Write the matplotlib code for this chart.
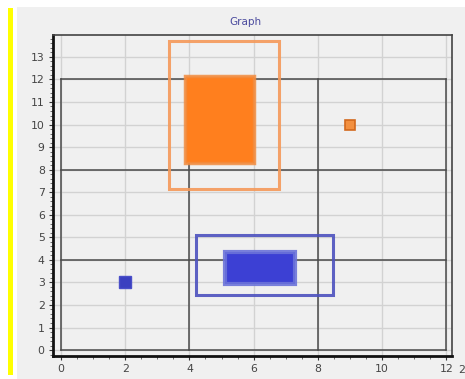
import matplotlib.pyplot as plt
from matplotlib.patches import Rectangle
from matplotlib.ticker import MultipleLocator

# cell boundaries of the black 3x3 grid
cell_edges = [0, 4, 8, 12]

# orange group: outline box, filled box (x0, y0, x1, y1) and single point
orange_box = [3.35, 7.15, 6.8, 13.72]
orange_fill = [3.85, 8.3, 6.0, 12.15]
orange_point = [9, 10]

# blue group
blue_box = [4.22, 2.42, 8.46, 5.08]
blue_fill = [5.1, 2.95, 7.3, 4.33]
blue_point = [2, 3]

fig = plt.figure(figsize=(4.65, 3.79), dpi=100)
fig.patch.set_facecolor('white')

# grey panel and yellow strip on the left
fig.patches.append(Rectangle((17/465, 0), 1, 1 - 7/379, transform=fig.transFigure,
                             facecolor='#f0f0f0', edgecolor='none', zorder=-2))
fig.patches.append(Rectangle((8/465, 4/379), 4.5/465, 1 - 12/379, transform=fig.transFigure,
                             facecolor='#ffff00', edgecolor='none', zorder=-1))

ax = fig.add_axes([53/465, 1 - 355.7/379, (452 - 53)/465, (355.7 - 35)/379])
ax.set_facecolor('#f0f0f0')
ax.set_xlim(-0.25, 12.18)
ax.set_ylim(-0.25, 13.97)

ax.xaxis.set_major_locator(MultipleLocator(2))
ax.xaxis.set_minor_locator(MultipleLocator(0.5))
ax.yaxis.set_major_locator(MultipleLocator(1))
ax.yaxis.set_minor_locator(MultipleLocator(0.2))
ax.grid(True, which='major', color='#d2d2d2', lw=1)
ax.set_axisbelow(True)
ax.tick_params(which='major', length=3, width=0.8, color='#333333', labelsize=7.8,
               labelcolor='#444444', pad=3)
ax.tick_params(which='minor', length=2, width=0.6, color='#555555')

for s in ['left', 'bottom']:
    ax.spines[s].set_linewidth(2)
    ax.spines[s].set_color('#111111')
for s in ['top', 'right']:
    ax.spines[s].set_linewidth(1.2)
    ax.spines[s].set_color('#444444')

for v in cell_edges:
    ax.plot([cell_edges[0], cell_edges[-1]], [v, v], color='#4a4a4a', lw=1.1, zorder=2)
    ax.plot([v, v], [cell_edges[0], cell_edges[-1]], color='#4a4a4a', lw=1.1, zorder=2)


def box(coords, face, edge, lw):
    x0, y0, x1, y1 = coords
    ax.add_patch(Rectangle((x0, y0), x1 - x0, y1 - y0, facecolor=face,
                           edgecolor=edge, lw=lw, zorder=3))


box(orange_box, 'none', (0.96, 0.6, 0.35, 0.9), 2.2)
box(orange_fill, '#ff7f1e', (0.95, 0.55, 0.25, 0.85), 2.5)
box(blue_box, 'none', (0.3, 0.32, 0.75, 0.9), 2.2)
box(blue_fill, '#3c40d4', (0.42, 0.45, 0.85, 0.9), 3)

ax.plot(orange_point[0], orange_point[1], 's', ms=6.5, color='#f39040',
        markeredgecolor='#d2691e', mew=1.2, zorder=4)
ax.plot(blue_point[0], blue_point[1], 's', ms=8.5, color='#3a3fc0',
        markeredgecolor='#4a4fc8', mew=1, zorder=4)

fig.text(245/465, 1 - 22/379, 'Graph', ha='center', va='center', fontsize=7.5, color='#4b4b9e')
fig.text(458/465, 1 - 370/379, '2', ha='left', va='center', fontsize=7.8, color='#444444')

fig.savefig('out.png', dpi=100)
